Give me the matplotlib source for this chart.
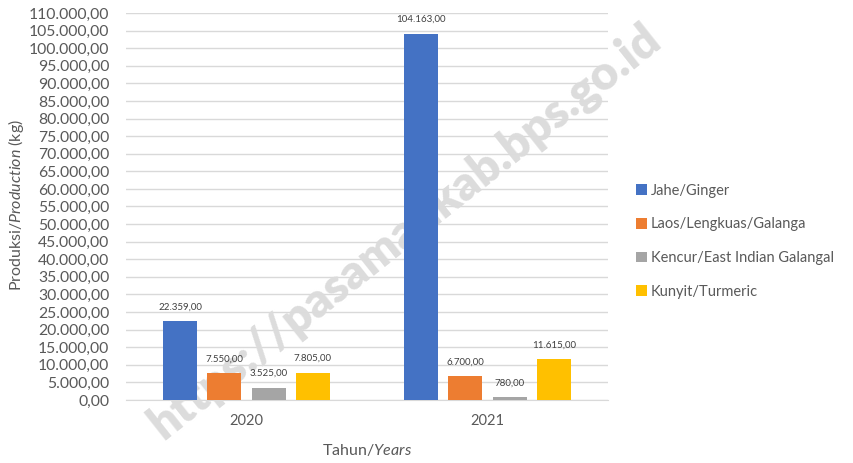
import matplotlib
matplotlib.use("Agg")
import matplotlib.pyplot as plt
import numpy as np

years = ["2020", "2021"]
series = ["Jahe/Ginger", "Laos/Lengkuas/Galanga", "Kencur/East Indian Galangal", "Kunyit/Turmeric"]
jahe = [22359, 104163]
laos = [7550, 6700]
kencur = [3525, 780]
kunyit = [7805, 11615]
colors = ["#4472C4", "#ED7D31", "#A5A5A5", "#FFC000"]

def fmt(v):
    s = f"{v:,.2f}"
    return s.replace(",", "X").replace(".", ",").replace("X", ".")

plt.rcParams['font.family'] = ['Lato', 'DejaVu Sans']
plt.rcParams['mathtext.fontset'] = 'custom'
plt.rcParams['mathtext.rm'] = 'Lato'
plt.rcParams['mathtext.it'] = 'Lato:italic'

fig = plt.figure(figsize=(8.54, 4.63), dpi=100)
ax = fig.add_axes([0.1475, 0.136, 0.5645, 0.836])

x = np.arange(len(years))
width = 0.141
step = 0.183
data = [jahe, laos, kencur, kunyit]
for i, (name, vals, c) in enumerate(zip(series, data, colors)):
    pos = x + (i - 1.5) * step
    bars = ax.bar(pos, vals, width, color=c, label=name, zorder=3)
    for b, v in zip(bars, vals):
        ax.annotate(fmt(v), (b.get_x() + b.get_width() / 2, v), xytext=(0, 7),
                    textcoords="offset points", ha="center", va="bottom",
                    fontsize=7, color="#404040", zorder=4)

ax.set_xlim(-0.5, 1.5)
ax.set_ylim(0, 110000)
yt = np.arange(0, 110001, 5000)
ax.set_yticks(yt)
ax.set_yticklabels([fmt(v) for v in yt], fontsize=11.3, color="#595959")
ax.set_xticks(x)
ax.set_xticklabels(years, fontsize=10.5, color="#595959")
ax.tick_params(axis="both", length=0)
ax.tick_params(axis="x", pad=10)
ax.tick_params(axis="y", pad=12)
ax.grid(axis="y", color="#D9D9D9", linewidth=1, zorder=0)
for s in ["top", "right", "left"]:
    ax.spines[s].set_visible(False)
ax.spines["bottom"].set_color("#D9D9D9")
ax.spines["bottom"].set_zorder(1)

fig.text(16 / 854, 1 - 205 / 463, r"Produksi/$\mathit{Production}$ (kg)", rotation=90,
         ha="center", va="center", fontsize=11.5, color="#595959")
ax.set_xlabel(r"Tahun/$\mathit{Years}$", fontsize=11.5, color="#595959", labelpad=10)

leg = fig.legend(loc="center left", bbox_to_anchor=(0.729, 0.479), frameon=False,
                 fontsize=10.5, handlelength=0.75, handleheight=0.75, handletextpad=0.3,
                 labelspacing=1.35)
for t in leg.get_texts():
    t.set_color("#595959")

ax.text(0.474, 0.5, "https://pasamankab.bps.go.id", rotation=38.4, ha="center", va="center",
        fontsize=34, fontweight="heavy", color="#DCDCDC", zorder=2,
        transform=fig.transFigure, clip_on=False)

fig.savefig("out.png", dpi=100)
